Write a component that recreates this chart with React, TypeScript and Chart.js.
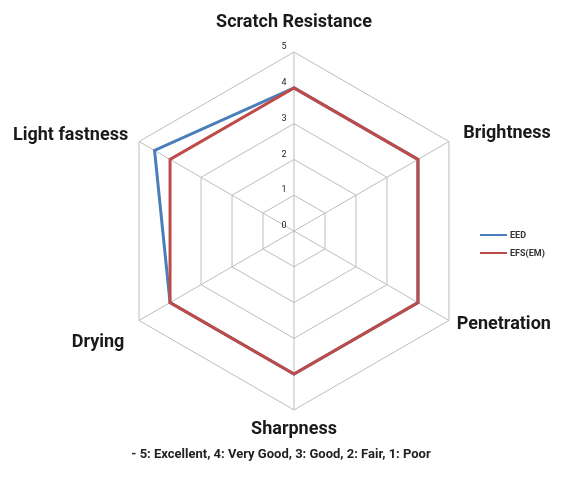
import React, { useEffect, useRef } from "react";
import { Chart, registerables } from "chart.js";
Chart.register(...registerables);

const categories = ["Scratch Resistance", "Brightness", "Penetration", "Sharpness", "Drying", "Light fastness"];
const eedValues = [4, 4, 4, 4, 4, 4.5];
const efsValues = [4, 4, 4, 4, 4, 4];
const seriesNames = ["EED", "EFS(EM)"];
const seriesColors = ["#4a7ebb", "#be4b48"];
const tickValues = [0, 1, 2, 3, 4, 5];
const footnote = "- 5: Excellent, 4: Very Good, 3: Good, 2: Fair, 1: Poor";

const labelPadding = [19, 16.5, 9, 9, 17, 12.6];
const labelLineHeight: (number | string)[] = [1.2, 0, 0, 1.2, "28px", 0];

const tickLabelPlugin = {
  id: "tickLabels",
  afterDraw(chart: any) {
    const sc = chart.scales.r;
    const ctx = chart.ctx;
    ctx.save();
    ctx.font = "9px Roboto";
    ctx.fillStyle = "#222";
    ctx.textAlign = "center";
    ctx.textBaseline = "middle";
    tickValues.forEach((v) => {
      const p = sc.getPointPositionForValue(0, v);
      ctx.fillText(String(v), p.x - 10, p.y - 5);
    });
    ctx.restore();
  },
};

export default function App() {
  const ref = useRef<HTMLCanvasElement>(null);
  useEffect(() => {
    const chart = new Chart(ref.current!, {
      type: "radar",
      data: {
        labels: categories,
        datasets: [
          { label: seriesNames[0], data: eedValues, borderColor: seriesColors[0], borderWidth: 3, pointRadius: 0, fill: false, order: 2 },
          { label: seriesNames[1], data: efsValues, borderColor: seriesColors[1], borderWidth: 3, pointRadius: 0, fill: false, order: 1 },
        ],
      },
      options: {
        responsive: false,
        animation: false,
        layout: { padding: { top: 6, left: 0, right: 0, bottom: 0 } },
        plugins: {
          legend: { display: false },
          tooltip: { enabled: false },
          title: { display: true, position: "bottom", text: footnote, font: { size: 13, family: "Roboto" }, color: "#222", padding: { top: 0.2, bottom: 14.2 } },
        },
        scales: {
          r: {
            min: 0, max: 5,
            ticks: { stepSize: 1, display: false },
            grid: { color: "#bdbdbd" },
            angleLines: { color: "#bdbdbd" },
            pointLabels: {
              font: (c: any) => ({ size: 18, weight: "bold", family: "Roboto", lineHeight: labelLineHeight[c.index] }),
              color: "#1a1a1a",
              padding: (c: any) => labelPadding[c.index],
            },
          },
        },
      },
      plugins: [tickLabelPlugin],
    });
    return () => chart.destroy();
  }, []);
  return (
    <div style={{ position: "fixed", left: 0, top: 0, width: 562, height: 477, overflow: "hidden" }}>
      <canvas ref={ref} width={562} height={477} style={{ display: "block" }} />
      {seriesNames.map((n, i) => (
        <div key={n} style={{ position: "absolute", left: 480, top: 229 + i * 18, height: 12, display: "flex", alignItems: "center", fontFamily: "Roboto", fontSize: 9, fontWeight: "bold", color: "#333" }}>
          <span style={{ display: "inline-block", width: 27, height: 2, background: seriesColors[i], marginRight: 3 }} />
          {n}
        </div>
      ))}
    </div>
  );
}
